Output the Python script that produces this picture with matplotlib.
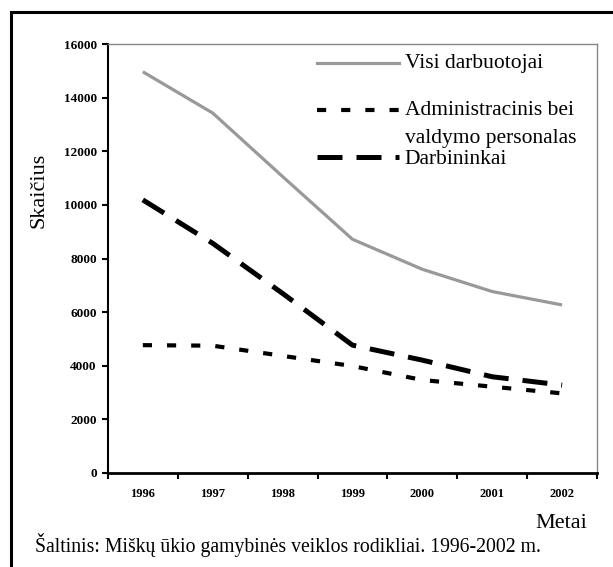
import matplotlib.pyplot as plt
from matplotlib.lines import Line2D
from matplotlib.patches import Rectangle

plt.rcParams["font.family"] = ["Liberation Serif", "DejaVu Serif"]

years = ["1996", "1997", "1998", "1999", "2000", "2001", "2002"]
visi = [14970, 13430, 11060, 8720, 7600, 6770, 6270]
admin = [4770, 4750, 4370, 3990, 3470, 3220, 2970]
darb = [10190, 8570, 6700, 4770, 4210, 3590, 3280]
y_ticks = [0, 2000, 4000, 6000, 8000, 10000, 12000, 14000, 16000]

labels = ["Visi darbuotojai", "Administracinis bei", "valdymo personalas", "Darbininkai"]


def main():
    fig = plt.figure(figsize=(6.13, 5.67), dpi=100)
    ax = fig.add_axes([0.176, 0.1658, 0.798, 0.7563])

    x = list(range(len(years)))
    ax.plot(x, visi, color="#999999", lw=2.3, solid_capstyle="butt")
    ax.plot(x, admin, color="black", lw=3.0, dashes=(2.2, 3.6))
    ax.plot(x, darb, color="black", lw=3.6, dashes=(5.0, 2.8))

    ax.set_xlim(-0.5, len(years) - 0.5)
    ax.set_ylim(0, 16000)
    ax.set_yticks(y_ticks)
    ax.set_yticklabels([str(v) for v in y_ticks], fontsize=9.5, fontweight="bold")
    ax.set_xticks([i - 0.5 for i in range(len(years) + 1)])
    ax.set_xticklabels([])
    ax.set_xticks(x, minor=True)
    ax.set_xticklabels(years, minor=True, fontsize=9, fontweight="bold")
    ax.tick_params(axis="x", which="major", direction="out", length=4, width=1.5)
    ax.tick_params(axis="x", which="minor", length=0, pad=11)
    ax.tick_params(axis="y", direction="out", length=4, width=1.5, pad=4)

    ax.spines["left"].set_linewidth(1.5)
    ax.spines["bottom"].set_linewidth(2)
    for s in ("top", "right"):
        ax.spines[s].set_color("#888888")
        ax.spines[s].set_linewidth(1)

    # hand-placed legend as in the original
    styles = [
        dict(color="#999999", lw=2.3),
        dict(color="black", lw=3.0, dashes=(2.2, 3.6)),
        dict(color="black", lw=3.6, dashes=(5.0, 2.8)),
    ]
    handle_y = [0.956, 0.846, 0.737]
    for st, yy in zip(styles, handle_y):
        ax.add_line(Line2D([0.427, 0.595], [yy, yy], transform=ax.transAxes, **st))
    text_y = [0.956, 0.846, 0.779, 0.731]
    for yy, lab in zip(text_y, labels):
        ax.text(0.607, yy, lab, transform=ax.transAxes, fontsize=15.5,
                va="center", ha="left")

    fig.text(39 / 613, 1 - 190 / 567, "Skaičius", rotation=90, fontsize=16,
             ha="center", va="center")
    fig.text(587 / 613, 1 - 523 / 567, "Metai", fontsize=16, ha="right", va="center")
    fig.text(35 / 613, 1 - 545 / 567,
             "Šaltinis: Miškų ūkio gamybinės veiklos rodikliai. 1996-2002 m.",
             fontsize=14.2, ha="left", va="center")

    fig.patches.append(Rectangle((11 / 613, -0.1), 1.2, 1.1 - 12 / 567,
                                 transform=fig.transFigure, fill=False,
                                 edgecolor="black", lw=2.2))

    fig.savefig("out.png", dpi=100)


if __name__ == "__main__":
    main()
